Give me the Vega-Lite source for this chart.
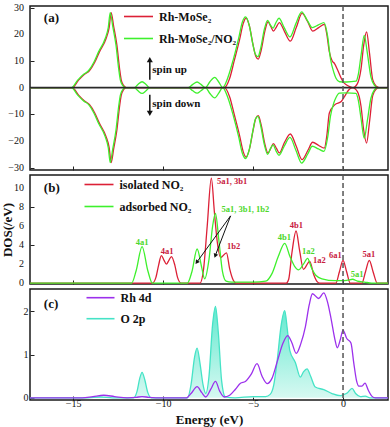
{
"$schema": "https://vega.github.io/schema/vega-lite/v6.json",
"padding": {"left": 0, "top": 0, "right": 2, "bottom": 0},
"background": "white",
"config": {
  "view": {"stroke": "#1a1a1a", "strokeWidth": 1.5},
  "font": "Liberation Serif",
  "axis": {"labelFont": "Liberation Serif", "labelFontSize": 10, "labelColor": "#111", "titleFont": "Liberation Serif", "titleFontSize": 13, "titleFontWeight": "bold", "titleColor": "#111", "tickColor": "#222", "tickSize": -4, "tickWidth": 1, "domain": false, "grid": false, "labelPadding": 5, "labelOverlap": false, "labelBound": false, "labelFlush": false},
  "legend": {"orient": "none", "title": null, "symbolType": "stroke", "symbolStrokeWidth": 1.6, "labelFont": "Liberation Serif", "labelFontSize": 12, "labelFontWeight": "bold", "labelColor": "#111", "labelOffset": 5, "padding": 0, "labelLimit": 300}
},
"datasets": {
"a": [
{"E":-17.4,"v":0,"s":"Rh-MoSe₂","p":"u"},{"E":-15.05,"v":0,"s":"Rh-MoSe₂","p":"u"},{"E":-14.7,"v":2.8,"s":"Rh-MoSe₂","p":"u"},{"E":-14.37,"v":5,"s":"Rh-MoSe₂","p":"u"},{"E":-14.1,"v":6.3,"s":"Rh-MoSe₂","p":"u"},{"E":-13.8,"v":9.5,"s":"Rh-MoSe₂","p":"u"},{"E":-13.54,"v":13.4,"s":"Rh-MoSe₂","p":"u"},{"E":-13.17,"v":18.4,"s":"Rh-MoSe₂","p":"u"},{"E":-13.0,"v":22.5,"s":"Rh-MoSe₂","p":"u"},{"E":-12.89,"v":28.1,"s":"Rh-MoSe₂","p":"u"},{"E":-12.75,"v":23,"s":"Rh-MoSe₂","p":"u"},{"E":-12.57,"v":15.9,"s":"Rh-MoSe₂","p":"u"},{"E":-12.42,"v":7,"s":"Rh-MoSe₂","p":"u"},{"E":-12.33,"v":2.9,"s":"Rh-MoSe₂","p":"u"},{"E":-12.2,"v":0.8,"s":"Rh-MoSe₂","p":"u"},{"E":-12.05,"v":0,"s":"Rh-MoSe₂","p":"u"},{"E":-6.6,"v":0,"s":"Rh-MoSe₂","p":"u"},{"E":-6.3,"v":3.5,"s":"Rh-MoSe₂","p":"u"},{"E":-6.05,"v":10,"s":"Rh-MoSe₂","p":"u"},{"E":-5.75,"v":18,"s":"Rh-MoSe₂","p":"u"},{"E":-5.55,"v":24,"s":"Rh-MoSe₂","p":"u"},{"E":-5.39,"v":26.1,"s":"Rh-MoSe₂","p":"u"},{"E":-5.2,"v":23,"s":"Rh-MoSe₂","p":"u"},{"E":-5.0,"v":16,"s":"Rh-MoSe₂","p":"u"},{"E":-4.85,"v":11.8,"s":"Rh-MoSe₂","p":"u"},{"E":-4.71,"v":10.7,"s":"Rh-MoSe₂","p":"u"},{"E":-4.55,"v":14,"s":"Rh-MoSe₂","p":"u"},{"E":-4.35,"v":21,"s":"Rh-MoSe₂","p":"u"},{"E":-4.17,"v":24.7,"s":"Rh-MoSe₂","p":"u"},{"E":-4.02,"v":23,"s":"Rh-MoSe₂","p":"u"},{"E":-3.87,"v":21.2,"s":"Rh-MoSe₂","p":"u"},{"E":-3.7,"v":22.8,"s":"Rh-MoSe₂","p":"u"},{"E":-3.54,"v":24.4,"s":"Rh-MoSe₂","p":"u"},{"E":-3.25,"v":21,"s":"Rh-MoSe₂","p":"u"},{"E":-2.93,"v":17.4,"s":"Rh-MoSe₂","p":"u"},{"E":-2.6,"v":22.5,"s":"Rh-MoSe₂","p":"u"},{"E":-2.28,"v":27.8,"s":"Rh-MoSe₂","p":"u"},{"E":-1.95,"v":24.5,"s":"Rh-MoSe₂","p":"u"},{"E":-1.69,"v":21.2,"s":"Rh-MoSe₂","p":"u"},{"E":-1.35,"v":22.5,"s":"Rh-MoSe₂","p":"u"},{"E":-1.04,"v":23.7,"s":"Rh-MoSe₂","p":"u"},{"E":-0.9,"v":20,"s":"Rh-MoSe₂","p":"u"},{"E":-0.76,"v":13.4,"s":"Rh-MoSe₂","p":"u"},{"E":-0.6,"v":10,"s":"Rh-MoSe₂","p":"u"},{"E":-0.48,"v":9.1,"s":"Rh-MoSe₂","p":"u"},{"E":-0.3,"v":6.6,"s":"Rh-MoSe₂","p":"u"},{"E":-0.1,"v":3.5,"s":"Rh-MoSe₂","p":"u"},{"E":0,"v":2.2,"s":"Rh-MoSe₂","p":"u"},{"E":0.2,"v":1.0,"s":"Rh-MoSe₂","p":"u"},{"E":0.37,"v":0.4,"s":"Rh-MoSe₂","p":"u"},{"E":0.55,"v":0,"s":"Rh-MoSe₂","p":"u"},{"E":0.8,"v":1.5,"s":"Rh-MoSe₂","p":"u"},{"E":1.0,"v":7,"s":"Rh-MoSe₂","p":"u"},{"E":1.15,"v":16,"s":"Rh-MoSe₂","p":"u"},{"E":1.31,"v":20.9,"s":"Rh-MoSe₂","p":"u"},{"E":1.47,"v":13,"s":"Rh-MoSe₂","p":"u"},{"E":1.65,"v":3,"s":"Rh-MoSe₂","p":"u"},{"E":1.85,"v":0.5,"s":"Rh-MoSe₂","p":"u"},{"E":2.0,"v":0,"s":"Rh-MoSe₂","p":"u"},{"E":2.5,"v":0,"s":"Rh-MoSe₂","p":"u"},
{"E":-17.4,"v":0,"s":"Rh-MoSe₂","p":"d"},{"E":-15.05,"v":0,"s":"Rh-MoSe₂","p":"d"},{"E":-14.7,"v":-2.8,"s":"Rh-MoSe₂","p":"d"},{"E":-14.37,"v":-5,"s":"Rh-MoSe₂","p":"d"},{"E":-14.1,"v":-6.3,"s":"Rh-MoSe₂","p":"d"},{"E":-13.8,"v":-9.5,"s":"Rh-MoSe₂","p":"d"},{"E":-13.54,"v":-13.4,"s":"Rh-MoSe₂","p":"d"},{"E":-13.17,"v":-18.4,"s":"Rh-MoSe₂","p":"d"},{"E":-13.0,"v":-22.5,"s":"Rh-MoSe₂","p":"d"},{"E":-12.89,"v":-28.1,"s":"Rh-MoSe₂","p":"d"},{"E":-12.75,"v":-23,"s":"Rh-MoSe₂","p":"d"},{"E":-12.57,"v":-15.9,"s":"Rh-MoSe₂","p":"d"},{"E":-12.42,"v":-7,"s":"Rh-MoSe₂","p":"d"},{"E":-12.33,"v":-2.9,"s":"Rh-MoSe₂","p":"d"},{"E":-12.2,"v":-0.8,"s":"Rh-MoSe₂","p":"d"},{"E":-12.05,"v":0,"s":"Rh-MoSe₂","p":"d"},{"E":-6.6,"v":0,"s":"Rh-MoSe₂","p":"d"},{"E":-6.3,"v":-3.5,"s":"Rh-MoSe₂","p":"d"},{"E":-6.05,"v":-10,"s":"Rh-MoSe₂","p":"d"},{"E":-5.75,"v":-18,"s":"Rh-MoSe₂","p":"d"},{"E":-5.55,"v":-24,"s":"Rh-MoSe₂","p":"d"},{"E":-5.39,"v":-26.1,"s":"Rh-MoSe₂","p":"d"},{"E":-5.2,"v":-23,"s":"Rh-MoSe₂","p":"d"},{"E":-5.0,"v":-16,"s":"Rh-MoSe₂","p":"d"},{"E":-4.85,"v":-11.6,"s":"Rh-MoSe₂","p":"d"},{"E":-4.71,"v":-10.5,"s":"Rh-MoSe₂","p":"d"},{"E":-4.55,"v":-14,"s":"Rh-MoSe₂","p":"d"},{"E":-4.35,"v":-21,"s":"Rh-MoSe₂","p":"d"},{"E":-4.17,"v":-24.5,"s":"Rh-MoSe₂","p":"d"},{"E":-4.02,"v":-22.8,"s":"Rh-MoSe₂","p":"d"},{"E":-3.87,"v":-21,"s":"Rh-MoSe₂","p":"d"},{"E":-3.7,"v":-22.8,"s":"Rh-MoSe₂","p":"d"},{"E":-3.54,"v":-24.5,"s":"Rh-MoSe₂","p":"d"},{"E":-3.25,"v":-20.5,"s":"Rh-MoSe₂","p":"d"},{"E":-2.93,"v":-17.4,"s":"Rh-MoSe₂","p":"d"},{"E":-2.6,"v":-22,"s":"Rh-MoSe₂","p":"d"},{"E":-2.28,"v":-27,"s":"Rh-MoSe₂","p":"d"},{"E":-1.95,"v":-23.5,"s":"Rh-MoSe₂","p":"d"},{"E":-1.69,"v":-20.5,"s":"Rh-MoSe₂","p":"d"},{"E":-1.35,"v":-21.7,"s":"Rh-MoSe₂","p":"d"},{"E":-1.04,"v":-22.7,"s":"Rh-MoSe₂","p":"d"},{"E":-0.9,"v":-18,"s":"Rh-MoSe₂","p":"d"},{"E":-0.76,"v":-9.5,"s":"Rh-MoSe₂","p":"d"},{"E":-0.45,"v":-6.4,"s":"Rh-MoSe₂","p":"d"},{"E":-0.1,"v":-5.2,"s":"Rh-MoSe₂","p":"d"},{"E":0.08,"v":-3.4,"s":"Rh-MoSe₂","p":"d"},{"E":0.3,"v":-1,"s":"Rh-MoSe₂","p":"d"},{"E":0.53,"v":0,"s":"Rh-MoSe₂","p":"d"},{"E":0.8,"v":-1.5,"s":"Rh-MoSe₂","p":"d"},{"E":1.0,"v":-7,"s":"Rh-MoSe₂","p":"d"},{"E":1.15,"v":-16,"s":"Rh-MoSe₂","p":"d"},{"E":1.31,"v":-20.8,"s":"Rh-MoSe₂","p":"d"},{"E":1.47,"v":-13,"s":"Rh-MoSe₂","p":"d"},{"E":1.65,"v":-3,"s":"Rh-MoSe₂","p":"d"},{"E":1.85,"v":-0.5,"s":"Rh-MoSe₂","p":"d"},{"E":2.0,"v":0,"s":"Rh-MoSe₂","p":"d"},{"E":2.5,"v":0,"s":"Rh-MoSe₂","p":"d"},
{"E":-17.4,"v":0,"s":"Rh-MoSe₂/NO₂","p":"u"},{"E":-15.1,"v":0,"s":"Rh-MoSe₂/NO₂","p":"u"},{"E":-14.75,"v":2.8,"s":"Rh-MoSe₂/NO₂","p":"u"},{"E":-14.42,"v":5,"s":"Rh-MoSe₂/NO₂","p":"u"},{"E":-14.15,"v":6.3,"s":"Rh-MoSe₂/NO₂","p":"u"},{"E":-13.85,"v":9.5,"s":"Rh-MoSe₂/NO₂","p":"u"},{"E":-13.59,"v":13.4,"s":"Rh-MoSe₂/NO₂","p":"u"},{"E":-13.22,"v":18.4,"s":"Rh-MoSe₂/NO₂","p":"u"},{"E":-13.05,"v":22.5,"s":"Rh-MoSe₂/NO₂","p":"u"},{"E":-12.94,"v":28.1,"s":"Rh-MoSe₂/NO₂","p":"u"},{"E":-12.8,"v":23,"s":"Rh-MoSe₂/NO₂","p":"u"},{"E":-12.62,"v":15.9,"s":"Rh-MoSe₂/NO₂","p":"u"},{"E":-12.47,"v":7,"s":"Rh-MoSe₂/NO₂","p":"u"},{"E":-12.38,"v":2.9,"s":"Rh-MoSe₂/NO₂","p":"u"},{"E":-12.25,"v":0.8,"s":"Rh-MoSe₂/NO₂","p":"u"},{"E":-12.1,"v":0,"s":"Rh-MoSe₂/NO₂","p":"u"},{"E":-11.6,"v":0,"s":"Rh-MoSe₂/NO₂","p":"u"},{"E":-11.4,"v":1.2,"s":"Rh-MoSe₂/NO₂","p":"u"},{"E":-11.17,"v":2.2,"s":"Rh-MoSe₂/NO₂","p":"u"},{"E":-10.95,"v":1.2,"s":"Rh-MoSe₂/NO₂","p":"u"},{"E":-10.75,"v":0,"s":"Rh-MoSe₂/NO₂","p":"u"},{"E":-8.6,"v":0,"s":"Rh-MoSe₂/NO₂","p":"u"},{"E":-8.35,"v":1.2,"s":"Rh-MoSe₂/NO₂","p":"u"},{"E":-8.11,"v":2.1,"s":"Rh-MoSe₂/NO₂","p":"u"},{"E":-7.9,"v":1.2,"s":"Rh-MoSe₂/NO₂","p":"u"},{"E":-7.65,"v":0,"s":"Rh-MoSe₂/NO₂","p":"u"},{"E":-7.4,"v":2.2,"s":"Rh-MoSe₂/NO₂","p":"u"},{"E":-7.13,"v":3.85,"s":"Rh-MoSe₂/NO₂","p":"u"},{"E":-6.9,"v":2,"s":"Rh-MoSe₂/NO₂","p":"u"},{"E":-6.69,"v":0,"s":"Rh-MoSe₂/NO₂","p":"u"},{"E":-6.4,"v":3.8,"s":"Rh-MoSe₂/NO₂","p":"u"},{"E":-6.1,"v":10.5,"s":"Rh-MoSe₂/NO₂","p":"u"},{"E":-5.8,"v":18.5,"s":"Rh-MoSe₂/NO₂","p":"u"},{"E":-5.6,"v":24.5,"s":"Rh-MoSe₂/NO₂","p":"u"},{"E":-5.42,"v":26.5,"s":"Rh-MoSe₂/NO₂","p":"u"},{"E":-5.22,"v":23.5,"s":"Rh-MoSe₂/NO₂","p":"u"},{"E":-5.02,"v":16.5,"s":"Rh-MoSe₂/NO₂","p":"u"},{"E":-4.87,"v":12.5,"s":"Rh-MoSe₂/NO₂","p":"u"},{"E":-4.73,"v":11.6,"s":"Rh-MoSe₂/NO₂","p":"u"},{"E":-4.57,"v":15,"s":"Rh-MoSe₂/NO₂","p":"u"},{"E":-4.37,"v":22,"s":"Rh-MoSe₂/NO₂","p":"u"},{"E":-4.19,"v":25.2,"s":"Rh-MoSe₂/NO₂","p":"u"},{"E":-4.04,"v":23.5,"s":"Rh-MoSe₂/NO₂","p":"u"},{"E":-3.89,"v":22.3,"s":"Rh-MoSe₂/NO₂","p":"u"},{"E":-3.72,"v":24.5,"s":"Rh-MoSe₂/NO₂","p":"u"},{"E":-3.56,"v":26,"s":"Rh-MoSe₂/NO₂","p":"u"},{"E":-3.27,"v":22.5,"s":"Rh-MoSe₂/NO₂","p":"u"},{"E":-2.95,"v":19,"s":"Rh-MoSe₂/NO₂","p":"u"},{"E":-2.62,"v":24,"s":"Rh-MoSe₂/NO₂","p":"u"},{"E":-2.3,"v":28.4,"s":"Rh-MoSe₂/NO₂","p":"u"},{"E":-1.97,"v":25,"s":"Rh-MoSe₂/NO₂","p":"u"},{"E":-1.71,"v":22.5,"s":"Rh-MoSe₂/NO₂","p":"u"},{"E":-1.37,"v":23.5,"s":"Rh-MoSe₂/NO₂","p":"u"},{"E":-1.06,"v":24.4,"s":"Rh-MoSe₂/NO₂","p":"u"},{"E":-0.85,"v":19,"s":"Rh-MoSe₂/NO₂","p":"u"},{"E":-0.7,"v":10.9,"s":"Rh-MoSe₂/NO₂","p":"u"},{"E":-0.5,"v":5.5,"s":"Rh-MoSe₂/NO₂","p":"u"},{"E":-0.39,"v":3.5,"s":"Rh-MoSe₂/NO₂","p":"u"},{"E":-0.2,"v":2.2,"s":"Rh-MoSe₂/NO₂","p":"u"},{"E":0.2,"v":2.1,"s":"Rh-MoSe₂/NO₂","p":"u"},{"E":0.72,"v":2.4,"s":"Rh-MoSe₂/NO₂","p":"u"},{"E":0.85,"v":5,"s":"Rh-MoSe₂/NO₂","p":"u"},{"E":1.0,"v":12,"s":"Rh-MoSe₂/NO₂","p":"u"},{"E":1.18,"v":19.6,"s":"Rh-MoSe₂/NO₂","p":"u"},{"E":1.35,"v":13,"s":"Rh-MoSe₂/NO₂","p":"u"},{"E":1.55,"v":4,"s":"Rh-MoSe₂/NO₂","p":"u"},{"E":1.75,"v":0.8,"s":"Rh-MoSe₂/NO₂","p":"u"},{"E":1.92,"v":0,"s":"Rh-MoSe₂/NO₂","p":"u"},{"E":2.5,"v":0,"s":"Rh-MoSe₂/NO₂","p":"u"},
{"E":-17.4,"v":0,"s":"Rh-MoSe₂/NO₂","p":"d"},{"E":-15.1,"v":0,"s":"Rh-MoSe₂/NO₂","p":"d"},{"E":-14.75,"v":-2.8,"s":"Rh-MoSe₂/NO₂","p":"d"},{"E":-14.42,"v":-5,"s":"Rh-MoSe₂/NO₂","p":"d"},{"E":-14.15,"v":-6.3,"s":"Rh-MoSe₂/NO₂","p":"d"},{"E":-13.85,"v":-9.5,"s":"Rh-MoSe₂/NO₂","p":"d"},{"E":-13.59,"v":-13.4,"s":"Rh-MoSe₂/NO₂","p":"d"},{"E":-13.22,"v":-18.4,"s":"Rh-MoSe₂/NO₂","p":"d"},{"E":-13.05,"v":-22.5,"s":"Rh-MoSe₂/NO₂","p":"d"},{"E":-12.94,"v":-28.1,"s":"Rh-MoSe₂/NO₂","p":"d"},{"E":-12.8,"v":-23,"s":"Rh-MoSe₂/NO₂","p":"d"},{"E":-12.62,"v":-15.9,"s":"Rh-MoSe₂/NO₂","p":"d"},{"E":-12.47,"v":-7,"s":"Rh-MoSe₂/NO₂","p":"d"},{"E":-12.38,"v":-2.9,"s":"Rh-MoSe₂/NO₂","p":"d"},{"E":-12.25,"v":-0.8,"s":"Rh-MoSe₂/NO₂","p":"d"},{"E":-12.1,"v":0,"s":"Rh-MoSe₂/NO₂","p":"d"},{"E":-11.6,"v":0,"s":"Rh-MoSe₂/NO₂","p":"d"},{"E":-11.4,"v":-1.2,"s":"Rh-MoSe₂/NO₂","p":"d"},{"E":-11.17,"v":-2.2,"s":"Rh-MoSe₂/NO₂","p":"d"},{"E":-10.95,"v":-1.2,"s":"Rh-MoSe₂/NO₂","p":"d"},{"E":-10.75,"v":0,"s":"Rh-MoSe₂/NO₂","p":"d"},{"E":-8.6,"v":0,"s":"Rh-MoSe₂/NO₂","p":"d"},{"E":-8.35,"v":-1.2,"s":"Rh-MoSe₂/NO₂","p":"d"},{"E":-8.11,"v":-2.1,"s":"Rh-MoSe₂/NO₂","p":"d"},{"E":-7.9,"v":-1.2,"s":"Rh-MoSe₂/NO₂","p":"d"},{"E":-7.65,"v":0,"s":"Rh-MoSe₂/NO₂","p":"d"},{"E":-7.4,"v":-2.2,"s":"Rh-MoSe₂/NO₂","p":"d"},{"E":-7.13,"v":-3.85,"s":"Rh-MoSe₂/NO₂","p":"d"},{"E":-6.9,"v":-2,"s":"Rh-MoSe₂/NO₂","p":"d"},{"E":-6.69,"v":0,"s":"Rh-MoSe₂/NO₂","p":"d"},{"E":-6.4,"v":-3.8,"s":"Rh-MoSe₂/NO₂","p":"d"},{"E":-6.1,"v":-10.5,"s":"Rh-MoSe₂/NO₂","p":"d"},{"E":-5.8,"v":-18.5,"s":"Rh-MoSe₂/NO₂","p":"d"},{"E":-5.6,"v":-24.5,"s":"Rh-MoSe₂/NO₂","p":"d"},{"E":-5.42,"v":-26.6,"s":"Rh-MoSe₂/NO₂","p":"d"},{"E":-5.22,"v":-23.5,"s":"Rh-MoSe₂/NO₂","p":"d"},{"E":-5.02,"v":-16.5,"s":"Rh-MoSe₂/NO₂","p":"d"},{"E":-4.87,"v":-11.8,"s":"Rh-MoSe₂/NO₂","p":"d"},{"E":-4.73,"v":-10.8,"s":"Rh-MoSe₂/NO₂","p":"d"},{"E":-4.57,"v":-14.5,"s":"Rh-MoSe₂/NO₂","p":"d"},{"E":-4.37,"v":-21.5,"s":"Rh-MoSe₂/NO₂","p":"d"},{"E":-4.19,"v":-25,"s":"Rh-MoSe₂/NO₂","p":"d"},{"E":-4.04,"v":-23,"s":"Rh-MoSe₂/NO₂","p":"d"},{"E":-3.89,"v":-21.5,"s":"Rh-MoSe₂/NO₂","p":"d"},{"E":-3.72,"v":-23.8,"s":"Rh-MoSe₂/NO₂","p":"d"},{"E":-3.56,"v":-25.4,"s":"Rh-MoSe₂/NO₂","p":"d"},{"E":-3.27,"v":-22,"s":"Rh-MoSe₂/NO₂","p":"d"},{"E":-2.95,"v":-18.7,"s":"Rh-MoSe₂/NO₂","p":"d"},{"E":-2.62,"v":-23.5,"s":"Rh-MoSe₂/NO₂","p":"d"},{"E":-2.3,"v":-28.3,"s":"Rh-MoSe₂/NO₂","p":"d"},{"E":-1.97,"v":-25,"s":"Rh-MoSe₂/NO₂","p":"d"},{"E":-1.71,"v":-22,"s":"Rh-MoSe₂/NO₂","p":"d"},{"E":-1.37,"v":-23,"s":"Rh-MoSe₂/NO₂","p":"d"},{"E":-1.06,"v":-23.9,"s":"Rh-MoSe₂/NO₂","p":"d"},{"E":-0.85,"v":-18.5,"s":"Rh-MoSe₂/NO₂","p":"d"},{"E":-0.7,"v":-10.8,"s":"Rh-MoSe₂/NO₂","p":"d"},{"E":-0.5,"v":-5.5,"s":"Rh-MoSe₂/NO₂","p":"d"},{"E":-0.39,"v":-3.7,"s":"Rh-MoSe₂/NO₂","p":"d"},{"E":-0.2,"v":-2.1,"s":"Rh-MoSe₂/NO₂","p":"d"},{"E":0.2,"v":-2.0,"s":"Rh-MoSe₂/NO₂","p":"d"},{"E":0.72,"v":-2.2,"s":"Rh-MoSe₂/NO₂","p":"d"},{"E":0.85,"v":-4.8,"s":"Rh-MoSe₂/NO₂","p":"d"},{"E":1.0,"v":-11.5,"s":"Rh-MoSe₂/NO₂","p":"d"},{"E":1.18,"v":-19,"s":"Rh-MoSe₂/NO₂","p":"d"},{"E":1.35,"v":-12.5,"s":"Rh-MoSe₂/NO₂","p":"d"},{"E":1.55,"v":-4,"s":"Rh-MoSe₂/NO₂","p":"d"},{"E":1.75,"v":-0.8,"s":"Rh-MoSe₂/NO₂","p":"d"},{"E":1.92,"v":0,"s":"Rh-MoSe₂/NO₂","p":"d"},{"E":2.5,"v":0,"s":"Rh-MoSe₂/NO₂","p":"d"}
],
"b": [
{"E":-17.4,"v":0,"s":"isolated NO₂"},{"E":-10.6,"v":0,"s":"isolated NO₂"},{"E":-10.4,"v":0.6,"s":"isolated NO₂"},{"E":-10.25,"v":1.9,"s":"isolated NO₂"},{"E":-10.1,"v":2.9,"s":"isolated NO₂"},{"E":-9.95,"v":2.4,"s":"isolated NO₂"},{"E":-9.82,"v":2.0,"s":"isolated NO₂"},{"E":-9.68,"v":2.4,"s":"isolated NO₂"},{"E":-9.54,"v":2.8,"s":"isolated NO₂"},{"E":-9.35,"v":1.9,"s":"isolated NO₂"},{"E":-9.2,"v":0.6,"s":"isolated NO₂"},{"E":-9.0,"v":0,"s":"isolated NO₂"},{"E":-7.95,"v":0,"s":"isolated NO₂"},{"E":-7.75,"v":1.5,"s":"isolated NO₂"},{"E":-7.55,"v":6,"s":"isolated NO₂"},{"E":-7.32,"v":11.1,"s":"isolated NO₂"},{"E":-7.15,"v":7.5,"s":"isolated NO₂"},{"E":-7.0,"v":4.5,"s":"isolated NO₂"},{"E":-6.8,"v":2.7,"s":"isolated NO₂"},{"E":-6.48,"v":3.2,"s":"isolated NO₂"},{"E":-6.3,"v":1.5,"s":"isolated NO₂"},{"E":-6.1,"v":0.3,"s":"isolated NO₂"},{"E":-5.95,"v":0,"s":"isolated NO₂"},{"E":-3.15,"v":0,"s":"isolated NO₂"},{"E":-3.02,"v":0.4,"s":"isolated NO₂"},{"E":-2.84,"v":3.2,"s":"isolated NO₂"},{"E":-2.61,"v":5.5,"s":"isolated NO₂"},{"E":-2.41,"v":3.4,"s":"isolated NO₂"},{"E":-2.2,"v":1.45,"s":"isolated NO₂"},{"E":-1.85,"v":2.3,"s":"isolated NO₂"},{"E":-1.63,"v":0.9,"s":"isolated NO₂"},{"E":-1.44,"v":0.15,"s":"isolated NO₂"},{"E":-1.3,"v":0,"s":"isolated NO₂"},{"E":-0.4,"v":0,"s":"isolated NO₂"},{"E":-0.2,"v":1.2,"s":"isolated NO₂"},{"E":0,"v":2.4,"s":"isolated NO₂"},{"E":0.2,"v":1.2,"s":"isolated NO₂"},{"E":0.4,"v":0,"s":"isolated NO₂"},{"E":1.05,"v":0,"s":"isolated NO₂"},{"E":1.25,"v":1.2,"s":"isolated NO₂"},{"E":1.46,"v":2.4,"s":"isolated NO₂"},{"E":1.67,"v":1.2,"s":"isolated NO₂"},{"E":1.9,"v":0,"s":"isolated NO₂"},{"E":2.5,"v":0,"s":"isolated NO₂"},
{"E":-17.4,"v":0,"s":"adsorbed NO₂"},{"E":-11.75,"v":0,"s":"adsorbed NO₂"},{"E":-11.5,"v":1.3,"s":"adsorbed NO₂"},{"E":-11.17,"v":3.85,"s":"adsorbed NO₂"},{"E":-10.85,"v":1.3,"s":"adsorbed NO₂"},{"E":-10.6,"v":0,"s":"adsorbed NO₂"},{"E":-8.65,"v":0,"s":"adsorbed NO₂"},{"E":-8.4,"v":1.2,"s":"adsorbed NO₂"},{"E":-8.11,"v":3.6,"s":"adsorbed NO₂"},{"E":-7.85,"v":1.6,"s":"adsorbed NO₂"},{"E":-7.69,"v":0.45,"s":"adsorbed NO₂"},{"E":-7.45,"v":2.5,"s":"adsorbed NO₂"},{"E":-7.25,"v":6.0,"s":"adsorbed NO₂"},{"E":-7.09,"v":7.35,"s":"adsorbed NO₂"},{"E":-6.9,"v":4.5,"s":"adsorbed NO₂"},{"E":-6.7,"v":1.2,"s":"adsorbed NO₂"},{"E":-6.5,"v":0.2,"s":"adsorbed NO₂"},{"E":-6.2,"v":0.1,"s":"adsorbed NO₂"},{"E":-5.0,"v":0.1,"s":"adsorbed NO₂"},{"E":-4.3,"v":0.2,"s":"adsorbed NO₂"},{"E":-3.95,"v":1.0,"s":"adsorbed NO₂"},{"E":-3.6,"v":2.8,"s":"adsorbed NO₂"},{"E":-3.24,"v":4.2,"s":"adsorbed NO₂"},{"E":-2.95,"v":2.8,"s":"adsorbed NO₂"},{"E":-2.7,"v":1.8,"s":"adsorbed NO₂"},{"E":-2.47,"v":1.4,"s":"adsorbed NO₂"},{"E":-2.2,"v":2.0,"s":"adsorbed NO₂"},{"E":-1.97,"v":2.6,"s":"adsorbed NO₂"},{"E":-1.75,"v":1.6,"s":"adsorbed NO₂"},{"E":-1.5,"v":0.8,"s":"adsorbed NO₂"},{"E":-1.17,"v":0.45,"s":"adsorbed NO₂"},{"E":-0.43,"v":0.25,"s":"adsorbed NO₂"},{"E":0,"v":0.25,"s":"adsorbed NO₂"},{"E":0.25,"v":0.3,"s":"adsorbed NO₂"},{"E":0.53,"v":0.4,"s":"adsorbed NO₂"},{"E":0.8,"v":0.2,"s":"adsorbed NO₂"},{"E":1.2,"v":0.1,"s":"adsorbed NO₂"},{"E":1.6,"v":0,"s":"adsorbed NO₂"},{"E":2.5,"v":0,"s":"adsorbed NO₂"}
],
"c": [
{"E":-17.4,"v":0,"s":"O  2p"},{"E":-14.2,"v":0,"s":"O  2p"},{"E":-13.5,"v":0.02,"s":"O  2p"},{"E":-12.8,"v":0,"s":"O  2p"},{"E":-11.65,"v":0,"s":"O  2p"},{"E":-11.45,"v":0.15,"s":"O  2p"},{"E":-11.3,"v":0.45,"s":"O  2p"},{"E":-11.17,"v":0.59,"s":"O  2p"},{"E":-11.02,"v":0.42,"s":"O  2p"},{"E":-10.85,"v":0.12,"s":"O  2p"},{"E":-10.65,"v":0,"s":"O  2p"},{"E":-8.65,"v":0,"s":"O  2p"},{"E":-8.45,"v":0.3,"s":"O  2p"},{"E":-8.25,"v":0.95,"s":"O  2p"},{"E":-8.11,"v":1.15,"s":"O  2p"},{"E":-7.95,"v":0.8,"s":"O  2p"},{"E":-7.78,"v":0.3,"s":"O  2p"},{"E":-7.63,"v":0.1,"s":"O  2p"},{"E":-7.45,"v":0.5,"s":"O  2p"},{"E":-7.25,"v":1.7,"s":"O  2p"},{"E":-7.09,"v":2.12,"s":"O  2p"},{"E":-6.93,"v":1.5,"s":"O  2p"},{"E":-6.75,"v":0.4,"s":"O  2p"},{"E":-6.54,"v":0.02,"s":"O  2p"},{"E":-6.0,"v":0,"s":"O  2p"},{"E":-5.0,"v":0.03,"s":"O  2p"},{"E":-4.3,"v":0.03,"s":"O  2p"},{"E":-4.05,"v":0.08,"s":"O  2p"},{"E":-3.85,"v":0.3,"s":"O  2p"},{"E":-3.65,"v":0.9,"s":"O  2p"},{"E":-3.45,"v":1.65,"s":"O  2p"},{"E":-3.24,"v":2.02,"s":"O  2p"},{"E":-3.1,"v":1.6,"s":"O  2p"},{"E":-2.96,"v":1.1,"s":"O  2p"},{"E":-2.65,"v":0.82,"s":"O  2p"},{"E":-2.37,"v":0.48,"s":"O  2p"},{"E":-2.2,"v":0.6,"s":"O  2p"},{"E":-2.0,"v":0.67,"s":"O  2p"},{"E":-1.8,"v":0.5,"s":"O  2p"},{"E":-1.54,"v":0.25,"s":"O  2p"},{"E":-1.07,"v":0.19,"s":"O  2p"},{"E":-0.61,"v":0.1,"s":"O  2p"},{"E":-0.15,"v":0.05,"s":"O  2p"},{"E":0,"v":0.07,"s":"O  2p"},{"E":0.25,"v":0.12,"s":"O  2p"},{"E":0.5,"v":0.22,"s":"O  2p"},{"E":0.7,"v":0.1,"s":"O  2p"},{"E":0.96,"v":0.03,"s":"O  2p"},{"E":1.24,"v":0.04,"s":"O  2p"},{"E":1.5,"v":0,"s":"O  2p"},{"E":2.5,"v":0,"s":"O  2p"},
{"E":-17.4,"v":0,"s":"Rh 4d"},{"E":-14.5,"v":0,"s":"Rh 4d"},{"E":-13.9,"v":0.03,"s":"Rh 4d"},{"E":-13.3,"v":0.06,"s":"Rh 4d"},{"E":-12.7,"v":0.03,"s":"Rh 4d"},{"E":-12.0,"v":0,"s":"Rh 4d"},{"E":-11.5,"v":0.01,"s":"Rh 4d"},{"E":-11.17,"v":0.03,"s":"Rh 4d"},{"E":-10.8,"v":0.01,"s":"Rh 4d"},{"E":-10.4,"v":0,"s":"Rh 4d"},{"E":-8.7,"v":0,"s":"Rh 4d"},{"E":-8.45,"v":0.1,"s":"Rh 4d"},{"E":-8.11,"v":0.26,"s":"Rh 4d"},{"E":-7.85,"v":0.12,"s":"Rh 4d"},{"E":-7.63,"v":0.02,"s":"Rh 4d"},{"E":-7.35,"v":0.2,"s":"Rh 4d"},{"E":-7.09,"v":0.38,"s":"Rh 4d"},{"E":-6.85,"v":0.15,"s":"Rh 4d"},{"E":-6.6,"v":0.02,"s":"Rh 4d"},{"E":-6.3,"v":0.06,"s":"Rh 4d"},{"E":-5.98,"v":0.2,"s":"Rh 4d"},{"E":-5.7,"v":0.34,"s":"Rh 4d"},{"E":-5.43,"v":0.38,"s":"Rh 4d"},{"E":-5.1,"v":0.55,"s":"Rh 4d"},{"E":-4.78,"v":0.79,"s":"Rh 4d"},{"E":-4.5,"v":0.5,"s":"Rh 4d"},{"E":-4.22,"v":0.33,"s":"Rh 4d"},{"E":-3.95,"v":0.45,"s":"Rh 4d"},{"E":-3.65,"v":0.85,"s":"Rh 4d"},{"E":-3.35,"v":1.25,"s":"Rh 4d"},{"E":-3.08,"v":1.44,"s":"Rh 4d"},{"E":-2.85,"v":1.28,"s":"Rh 4d"},{"E":-2.6,"v":1.03,"s":"Rh 4d"},{"E":-2.35,"v":1.25,"s":"Rh 4d"},{"E":-2.09,"v":1.65,"s":"Rh 4d"},{"E":-1.88,"v":2.15,"s":"Rh 4d"},{"E":-1.7,"v":2.41,"s":"Rh 4d"},{"E":-1.35,"v":2.3,"s":"Rh 4d"},{"E":-1.07,"v":2.43,"s":"Rh 4d"},{"E":-0.85,"v":2.2,"s":"Rh 4d"},{"E":-0.65,"v":1.8,"s":"Rh 4d"},{"E":-0.45,"v":1.35,"s":"Rh 4d"},{"E":-0.32,"v":1.16,"s":"Rh 4d"},{"E":-0.15,"v":1.35,"s":"Rh 4d"},{"E":0,"v":1.57,"s":"Rh 4d"},{"E":0.2,"v":1.38,"s":"Rh 4d"},{"E":0.44,"v":1.27,"s":"Rh 4d"},{"E":0.6,"v":0.8,"s":"Rh 4d"},{"E":0.75,"v":0.4,"s":"Rh 4d"},{"E":0.88,"v":0.27,"s":"Rh 4d"},{"E":1.05,"v":0.27,"s":"Rh 4d"},{"E":1.22,"v":0.34,"s":"Rh 4d"},{"E":1.4,"v":0.18,"s":"Rh 4d"},{"E":1.6,"v":0.04,"s":"Rh 4d"},{"E":1.8,"v":0,"s":"Rh 4d"},{"E":2.5,"v":0,"s":"Rh 4d"}
],
"ticksA": [{"t":-30},{"t":-20},{"t":-10},{"t":0},{"t":10},{"t":20},{"t":30}],
"ticksB": [{"t":0},{"t":2},{"t":4},{"t":6},{"t":8},{"t":10}],
"notesA": [{"E":-16.63,"v":26.1,"t":"(a)"}],
"spinA": [{"E":-10.6,"v":6.7,"t":"spin up"},{"E":-10.6,"v":-6.1,"t":"spin down"}],
"arrA": [{"E":-10.74,"v1":2.9,"v2":10.5,"k":"up"},{"E":-10.74,"v1":-2.7,"v2":-9.7,"k":"down"}],
"notesB": [{"E":-16.63,"v":10.0,"t":"(b)"}],
"peaksB": [
{"E":-9.78,"v":3.4,"t":"4a1","g":"r"},{"E":-6.17,"v":10.8,"t":"5a1, 3b1","g":"r"},{"E":-6.08,"v":3.95,"t":"1b2","g":"r"},{"E":-2.59,"v":6.1,"t":"4b1","g":"r"},{"E":-1.32,"v":2.46,"t":"1a2","g":"r"},{"E":-0.43,"v":2.96,"t":"6a1","g":"r"},{"E":1.44,"v":3.1,"t":"5a1","g":"r"},
{"E":-11.17,"v":4.37,"t":"4a1","g":"g"},{"E":-5.43,"v":7.82,"t":"5a1, 3b1, 1b2","g":"g"},{"E":-3.26,"v":4.9,"t":"4b1","g":"g"},{"E":-1.93,"v":3.41,"t":"1a2","g":"g"},{"E":0.78,"v":0.95,"t":"5a1","g":"g"}
],
"arrB": [{"E1":-6.25,"v1":7.1,"E2":-8.11,"v2":2.25,"k":"L"},{"E1":-6.25,"v1":7.1,"E2":-7.09,"v2":2.95,"k":"R"}],
"notesC": [{"E":-16.63,"v":2.18,"t":"(c)"}]
},
"vconcat": [
{
  "width": 358, "height": 164,
  "layer": [
    {"data": {"name": "a"}, "mark": {"type": "line", "interpolate": "monotone", "strokeWidth": 1.3},
     "encoding": {
       "x": {"field": "E", "type": "quantitative", "scale": {"domain": [-17.4, 2.5], "nice": false, "zero": false}, "axis": {"labels": false, "title": null, "values": [-15, -10, -5, 0]}},
       "y": {"field": "v", "type": "quantitative", "scale": {"domain": [-30.9, 30.6], "nice": false, "zero": false}, "axis": {"values": [-30, -20, -10, 0, 10, 20, 30], "labels": false, "title": null}},
       "color": {"field": "s", "type": "nominal", "scale": {"domain": ["Rh-MoSe₂", "Rh-MoSe₂/NO₂"], "range": ["#dc2036", "#3ef02c"]}, "legend": {"legendX": 93, "legendY": -5, "symbolSize": 841, "rowPadding": -9}},
       "detail": {"field": "p"}
     }},
    {"data": {"name": "ticksA"}, "mark": {"type": "text", "align": "right", "baseline": "middle", "dx": -6, "font": "Liberation Serif", "fontSize": 10, "color": "#111"},
     "encoding": {"x": {"datum": -17.4}, "y": {"field": "t", "type": "quantitative"}, "text": {"field": "t", "type": "quantitative", "format": "d"}}},
    {"data": {"values": [{}]}, "mark": {"type": "rule", "color": "#2a2a2a", "strokeWidth": 1.8}, "encoding": {"y": {"datum": 0}}},
    {"data": {"values": [{}]}, "mark": {"type": "rule", "color": "#555", "strokeWidth": 1.5, "strokeDash": [5, 3]}, "encoding": {"x": {"datum": 0}}},
    {"data": {"name": "notesA"}, "mark": {"type": "text", "align": "left", "baseline": "middle", "font": "Liberation Serif", "fontWeight": "bold", "fontSize": 13, "color": "#111"},
     "encoding": {"x": {"field": "E", "type": "quantitative"}, "y": {"field": "v", "type": "quantitative"}, "text": {"field": "t"}}},
    {"data": {"name": "spinA"}, "mark": {"type": "text", "align": "left", "baseline": "middle", "font": "Liberation Serif", "fontWeight": "bold", "fontSize": 11, "color": "#111"},
     "encoding": {"x": {"field": "E", "type": "quantitative"}, "y": {"field": "v", "type": "quantitative"}, "text": {"field": "t"}}},
    {"data": {"name": "arrA"}, "mark": {"type": "rule", "color": "#111", "strokeWidth": 1.5},
     "encoding": {"x": {"field": "E", "type": "quantitative"}, "y": {"field": "v1", "type": "quantitative"}, "y2": {"field": "v2"}}},
    {"data": {"name": "arrA"}, "transform": [{"filter": "datum.k == 'up'"}], "mark": {"type": "point", "shape": "triangle-up", "filled": true, "color": "#111", "size": 36, "opacity": 1},
     "encoding": {"x": {"field": "E", "type": "quantitative"}, "y": {"field": "v2", "type": "quantitative"}}},
    {"data": {"name": "arrA"}, "transform": [{"filter": "datum.k == 'down'"}], "mark": {"type": "point", "shape": "triangle-down", "filled": true, "color": "#111", "size": 36, "opacity": 1},
     "encoding": {"x": {"field": "E", "type": "quantitative"}, "y": {"field": "v2", "type": "quantitative"}}}
  ]
},
{
  "width": 358, "height": 109,
  "layer": [
    {"data": {"name": "b"}, "mark": {"type": "line", "interpolate": "monotone", "strokeWidth": 1.3},
     "encoding": {
       "x": {"field": "E", "type": "quantitative", "scale": {"domain": [-17.4, 2.5], "nice": false, "zero": false}, "axis": {"labels": false, "title": null, "values": [-15, -10, -5, 0]}},
       "y": {"field": "v", "type": "quantitative", "scale": {"domain": [-0.1, 11.42], "nice": false, "zero": false}, "axis": {"values": [0, 2, 4, 6, 8, 10], "labels": false, "title": "DOS(/eV)", "titlePadding": 15}},
       "color": {"field": "s", "type": "nominal", "scale": {"domain": ["isolated NO₂", "adsorbed NO₂"], "range": ["#dc2036", "#3ef02c"]}, "legend": {"legendX": 53.5, "legendY": -6, "symbolSize": 841, "rowPadding": -8.3}}
     }},
    {"data": {"name": "ticksB"}, "mark": {"type": "text", "align": "right", "baseline": "middle", "dx": -6, "font": "Liberation Serif", "fontSize": 10, "color": "#111"},
     "encoding": {"x": {"datum": -17.4}, "y": {"field": "t", "type": "quantitative"}, "text": {"field": "t", "type": "quantitative", "format": "d"}}},
    {"data": {"values": [{}]}, "mark": {"type": "rule", "color": "#555", "strokeWidth": 1.5, "strokeDash": [5, 3]}, "encoding": {"x": {"datum": 0}}},
    {"data": {"name": "notesB"}, "mark": {"type": "text", "align": "left", "baseline": "middle", "font": "Liberation Serif", "fontWeight": "bold", "fontSize": 13, "color": "#111"},
     "encoding": {"x": {"field": "E", "type": "quantitative"}, "y": {"field": "v", "type": "quantitative"}, "text": {"field": "t"}}},
    {"data": {"name": "peaksB"}, "transform": [{"filter": "datum.g == 'r'"}], "mark": {"type": "text", "align": "center", "baseline": "middle", "font": "Liberation Serif", "fontWeight": "bold", "fontSize": 8.5, "color": "#c8203e"},
     "encoding": {"x": {"field": "E", "type": "quantitative"}, "y": {"field": "v", "type": "quantitative"}, "text": {"field": "t"}}},
    {"data": {"name": "peaksB"}, "transform": [{"filter": "datum.g == 'g'"}], "mark": {"type": "text", "align": "center", "baseline": "middle", "font": "Liberation Serif", "fontWeight": "bold", "fontSize": 8.5, "color": "#4cd82a"},
     "encoding": {"x": {"field": "E", "type": "quantitative"}, "y": {"field": "v", "type": "quantitative"}, "text": {"field": "t"}}},
    {"data": {"name": "arrB"}, "mark": {"type": "rule", "color": "#111", "strokeWidth": 1},
     "encoding": {"x": {"field": "E1", "type": "quantitative"}, "y": {"field": "v1", "type": "quantitative"}, "x2": {"field": "E2"}, "y2": {"field": "v2"}}},
    {"data": {"name": "arrB"}, "transform": [{"filter": "datum.k == 'L'"}], "mark": {"type": "point", "shape": "triangle", "filled": true, "color": "#111", "size": 22, "opacity": 1, "angle": 216},
     "encoding": {"x": {"field": "E2", "type": "quantitative"}, "y": {"field": "v2", "type": "quantitative"}}},
    {"data": {"name": "arrB"}, "transform": [{"filter": "datum.k == 'R'"}], "mark": {"type": "point", "shape": "triangle", "filled": true, "color": "#111", "size": 22, "opacity": 1, "angle": 201},
     "encoding": {"x": {"field": "E2", "type": "quantitative"}, "y": {"field": "v2", "type": "quantitative"}}}
  ]
},
{
  "width": 358, "height": 111,
  "layer": [
    {"data": {"name": "c"}, "transform": [{"filter": "datum.s != 'Rh 4d'"}],
     "mark": {"type": "area", "interpolate": "monotone", "opacity": 0.9, "color": {"gradient": "linear", "x1": 0, "y1": 0, "x2": 0, "y2": 1, "stops": [{"offset": 0, "color": "#4fe6c9"}, {"offset": 1, "color": "#d2f8f0"}]}},
     "encoding": {
       "x": {"field": "E", "type": "quantitative", "scale": {"domain": [-17.4, 2.5], "nice": false, "zero": false}, "axis": {"values": [-15, -10, -5, 0], "title": "Energy (eV)", "titlePadding": 5, "labelPadding": 2}},
       "y": {"field": "v", "type": "quantitative", "scale": {"domain": [-0.05, 2.52], "nice": false, "zero": false}, "axis": {"values": [0, 1, 2], "title": null, "labelPadding": 6}}
     }},
    {"data": {"name": "c"}, "mark": {"type": "line", "interpolate": "monotone", "strokeWidth": 1.3},
     "encoding": {
       "x": {"field": "E", "type": "quantitative"},
       "y": {"field": "v", "type": "quantitative"},
       "color": {"field": "s", "type": "nominal", "scale": {"domain": ["Rh 4d", "O  2p"], "range": ["#9c30ec", "#45e3c6"]}, "legend": {"legendX": 55.5, "legendY": -6.3, "symbolSize": 784, "rowPadding": -11.7}}
     }},
    {"data": {"values": [{}]}, "mark": {"type": "rule", "color": "#555", "strokeWidth": 1.5, "strokeDash": [5, 3]}, "encoding": {"x": {"datum": 0}}},
    {"data": {"name": "notesC"}, "mark": {"type": "text", "align": "left", "baseline": "middle", "font": "Liberation Serif", "fontWeight": "bold", "fontSize": 13, "color": "#111"},
     "encoding": {"x": {"field": "E", "type": "quantitative"}, "y": {"field": "v", "type": "quantitative"}, "text": {"field": "t"}}}
  ]
}
],
"spacing": 5,
"bounds": "flush",
"resolve": {"scale": {"color": "independent"}, "legend": {"color": "independent"}}
}
